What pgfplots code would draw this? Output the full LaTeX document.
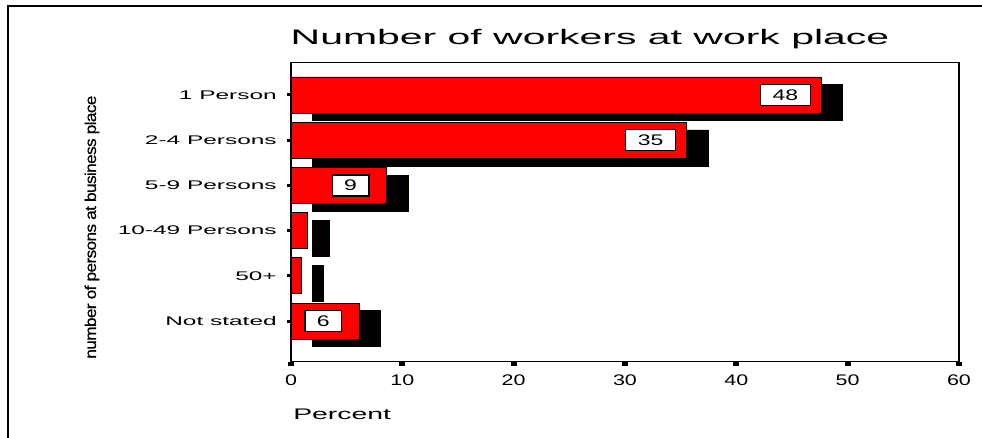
\documentclass[border=0pt]{standalone}
\usepackage{pgfplots}
\pgfplotsset{compat=1.18}
\usepackage{fontspec}
\setmainfont{Liberation Sans}
\newfontfamily\titlefont{Liberation Sans}[FakeStretch=1.95]
\newfontfamily\ytfont{Liberation Sans}[FakeStretch=1.95]
\newfontfamily\xtfont{Liberation Sans}[FakeStretch=1.4]
\newfontfamily\pctfont{Liberation Sans}[FakeStretch=1.85]
\newfontfamily\boxfont{Liberation Sans}[FakeStretch=1.5]
\newfontfamily\ylfont{Liberation Sans}[LetterSpace=-4,FakeBold=0.6]
\begin{document}
\begin{tikzpicture}
\useasboundingbox (0,0) rectangle (736.5pt,328.5pt);
\clip (0,0) rectangle (736.5pt,328.5pt);
\draw[line width=1.6pt] (5.85pt,-5pt) -- (5.85pt,324.15pt) -- (745pt,324.15pt);
\begin{axis}[
  at={(218.25pt,57.2pt)}, anchor=south west,
  scale only axis, width=501pt, height=224.3pt,
  xmin=0, xmax=60, ymin=-0.9, ymax=5.715,
  xbar, bar width=27pt,
  axis line style={line width=0.8pt},
  xtick={0,10,20,30,40,50,60},
  xticklabels={0,10,20,30,40,50,60},
  ytick={0,1,2,3,4,5},
  yticklabels={Not stated,50+,10-49 Persons,5-9 Persons,2-4 Persons,1 Person},
  xtick pos=lower, ytick pos=left,
  tick align=outside,
  xtick style={line width=4.3pt, black},
  ytick style={line width=2.25pt, black},
  major tick length=3pt,
  xticklabel style={font=\xtfont\fontsize{11.5}{12}\selectfont, anchor=base, yshift=-14.5pt},
  yticklabel style={font=\ytfont\fontsize{9.4}{10}\selectfont, anchor=east, inner sep=0pt, xshift=-7.5pt},
  title={Number of workers at work place},
  title style={font=\titlefont\fontsize{15.75}{17}\selectfont, at={(axis description cs:0.4476,1)}, anchor=base, yshift=7.5pt},
  xlabel={Percent},
  xlabel style={font=\pctfont\fontsize{11.5}{12}\selectfont, at={(axis description cs:0,0)}, anchor=base west, yshift=-43.7pt, xshift=1.5pt, inner sep=0pt},
  ylabel={\scalebox{1}[0.9]{number of persons at business place}},
  ylabel style={font=\ylfont\fontsize{13}{14}\selectfont, at={(axis description cs:-0.298,0.45)}, anchor=center},
  clip=false,
]
\addplot[fill=black, draw=black, bar shift=-5.7pt, xshift=16.3pt] coordinates {(47.6,5) (35.5,4) (8.55,3) (1.45,2) (0.95,1) (6.1,0)};
\addplot[fill=red, draw=black, line width=0.6pt, bar shift=0pt] coordinates {(47.6,5) (35.5,4) (8.55,3) (1.45,2) (0.95,1) (6.1,0)};
\addplot[draw=none, fill=none, bar shift=0pt, nodes near coords, point meta=explicit symbolic,
  nodes near coords align={center},
  nodes near coords style={font=\boxfont\fontsize{11.5}{12}\selectfont, fill=white, draw=black, line width=0.9pt, inner xsep=9pt, inner ysep=0pt, minimum height=15.75pt, anchor=center, xshift=-26.7pt}]
  coordinates {(47.6,5)[48] (35.5,4)[35] (8.55,3)[9] (6.1,0)[6]};
\end{axis}
\end{tikzpicture}
\end{document}
